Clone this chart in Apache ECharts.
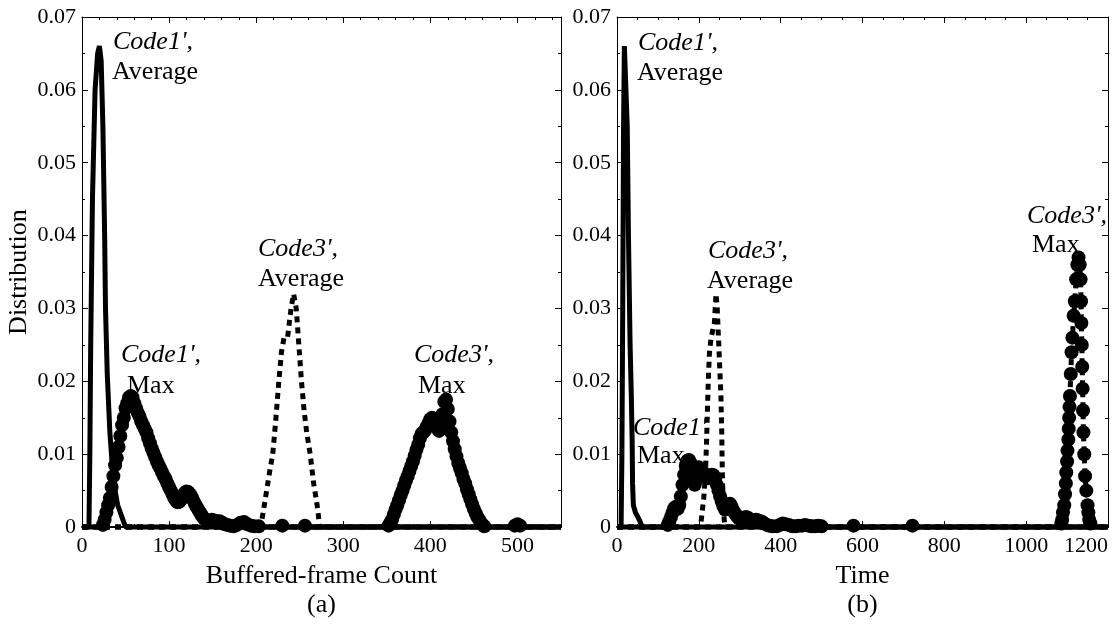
<!DOCTYPE html>
<html>
<head>
<meta charset="utf-8">
<title>Distribution</title>
<style>
html, body {margin: 0; padding: 0; background: #fff;}
#chart {width: 1120px; height: 625px;}
</style>
</head>
<body>
<div id="chart"></div>
<script src="https://cdn.jsdelivr.net/npm/echarts@6/dist/echarts.min.js"></script>
<script>
// (a) Buffered-frame Count, [x, distribution]
var aCode1Avg = [[0,0],[8,0],[9,0.01],[10,0.025],[12,0.045],[15,0.06],[18,0.065],[20,0.066],[22,0.064],[24,0.055],[26,0.04],[27,0.03],[29,0.021],[32,0.013],[35,0.008],[38,0.005],[41,0.003],[44,0.002],[47,0.001],[50,0],[550,0]];
var aCode1Max = [[0,0],[22,0],[24,0.0003],[26,0.001],[28,0.002],[30,0.003],[32,0.004],[34,0.0055],[36,0.007],[38,0.0085],[40,0.0095],[42,0.011],[44,0.0125],[46,0.014],[48,0.015],[50,0.0163],[52,0.017],[54,0.0178],[56,0.018],[58,0.0178],[60,0.017],[62,0.0163],[64,0.0157],[66,0.0152],[68,0.0145],[70,0.014],[72,0.0135],[74,0.013],[76,0.0122],[78,0.0115],[80,0.0108],[82,0.0102],[84,0.0096],[86,0.009],[88,0.0085],[90,0.008],[92,0.0075],[94,0.007],[96,0.0066],[98,0.006],[100,0.0055],[102,0.005],[104,0.0045],[106,0.004],[108,0.0036],[110,0.0034],[112,0.0035],[114,0.0038],[116,0.0043],[118,0.0047],[120,0.0049],[122,0.0048],[124,0.0045],[126,0.0041],[128,0.0036],[130,0.0031],[132,0.0027],[134,0.0023],[136,0.0019],[138,0.0015],[140,0.0012],[143,0.0009],[146,0.0008],[149,0.001],[152,0.0009],[155,0.0008],[158,0.0008],[161,0.0006],[164,0.0004],[167,0.0003],[170,0.0002],[174,0.0001],[178,0.0003],[182,0.0006],[186,0.0007],[190,0.0004],[194,0.0002],[198,0.0001],[203,0.0001],[210,0],[226,0],[230,0.0002],[234,0],[252,0],[256,0.0002],[260,0],[550,0]];
var aCode3Avg = [[0,0],[205,0],[208,0.002],[212,0.005],[216,0.008],[219,0.01],[222,0.014],[226,0.02],[229,0.024],[232,0.026],[236,0.026],[240,0.03],[243,0.032],[246,0.03],[249,0.025],[252,0.02],[255,0.016],[258,0.013],[262,0.01],[266,0.006],[270,0.003],[273,0],[550,0]];
var aCode3Max = [[0,0],[350,0],[352,0.0002],[354,0.0006],[356,0.001],[358,0.0017],[360,0.0024],[362,0.003],[364,0.0037],[366,0.0044],[368,0.005],[370,0.0057],[372,0.0064],[374,0.007],[376,0.0077],[378,0.0084],[380,0.009],[382,0.0098],[384,0.0106],[386,0.0113],[388,0.0122],[390,0.0128],[392,0.013],[394,0.0133],[396,0.0138],[398,0.0143],[400,0.0148],[402,0.015],[404,0.0147],[406,0.0142],[408,0.0136],[410,0.0132],[412,0.014],[414,0.0155],[416,0.0172],[418,0.0175],[420,0.0162],[422,0.0145],[424,0.013],[426,0.0118],[428,0.0107],[430,0.0097],[432,0.0088],[434,0.0081],[436,0.0074],[438,0.0066],[440,0.006],[442,0.0052],[444,0.0045],[446,0.0038],[448,0.0031],[450,0.0025],[452,0.0019],[454,0.0014],[456,0.001],[458,0.0006],[460,0.0003],[462,0.0001],[465,0],[494,0],[497,0.0002],[500,0.0004],[503,0.0002],[506,0],[550,0]];

// (b) Time, [x, distribution]
var bCode1Avg = [[0,0],[10,0],[12,0.01],[14,0.03],[16,0.055],[18,0.066],[22,0.066],[25,0.055],[28,0.04],[32,0.025],[35,0.018],[37,0.012],[38,0.006],[40,0.003],[45,0.002],[50,0.0015],[56,0.0008],[62,0],[1200,0]];
var bCode1Max = [[0,0],[120,0],[124,0.0003],[128,0.0008],[132,0.0014],[136,0.002],[140,0.0026],[144,0.0028],[148,0.0025],[152,0.003],[156,0.0042],[160,0.0058],[164,0.0072],[168,0.0084],[172,0.0091],[176,0.0092],[180,0.0088],[184,0.0078],[187,0.0065],[190,0.0058],[193,0.0064],[196,0.0074],[200,0.0082],[204,0.008],[208,0.0077],[212,0.0074],[216,0.007],[220,0.0068],[224,0.0067],[228,0.007],[232,0.0072],[236,0.0071],[240,0.0066],[244,0.0058],[248,0.005],[252,0.0042],[256,0.0035],[260,0.0029],[264,0.0024],[268,0.0027],[272,0.0031],[276,0.0032],[280,0.0028],[284,0.0023],[288,0.0019],[292,0.0016],[296,0.0013],[300,0.0011],[305,0.001],[310,0.0012],[315,0.0014],[320,0.0013],[325,0.001],[330,0.0008],[335,0.0008],[340,0.001],[345,0.0009],[350,0.0008],[355,0.0007],[360,0.0005],[366,0.0003],[372,0.0002],[380,0.0001],[390,0.0001],[398,0.0003],[405,0.0005],[412,0.0004],[420,0.0003],[428,0.0001],[436,0.0001],[444,0.0002],[452,0.0002],[460,0.0003],[468,0.0002],[476,0.0001],[484,0.0001],[492,0.0002],[500,0.0001],[508,0],[572,0],[578,0.0002],[584,0],[716,0],[722,0.0002],[728,0],[1200,0]];
var bCode3Avg = [[0,0],[200,0],[205,0.0005],[208,0.002],[212,0.004],[216,0.007],[219,0.012],[221,0.016],[223,0.02],[226,0.024],[230,0.026],[234,0.026],[238,0.028],[242,0.032],[245,0.03],[248,0.026],[251,0.022],[254,0.018],[256,0.013],[257,0.009],[258,0.006],[260,0.003],[262,0.001],[265,0],[1200,0]];
var bCode3Max = [[0,0],[1080,0],[1086,0.0005],[1088,0.001],[1090,0.002],[1093,0.003],[1095,0.0045],[1097,0.006],[1098,0.0075],[1100,0.009],[1101,0.0105],[1103,0.012],[1104,0.0135],[1105,0.015],[1106,0.0165],[1107,0.018],[1109,0.021],[1111,0.024],[1113,0.026],[1116,0.029],[1119,0.031],[1122,0.034],[1125,0.036],[1128,0.037],[1131,0.036],[1133,0.034],[1134,0.031],[1135,0.028],[1136,0.025],[1137,0.022],[1138,0.019],[1139,0.016],[1140,0.013],[1142,0.01],[1144,0.007],[1147,0.005],[1150,0.003],[1152,0.002],[1154,0.001],[1157,0.0005],[1160,0],[1200,0]];

var FONT = 'Liberation Serif';
var chart = echarts.init(document.getElementById('chart'));

function xAx(grid, pos, max, interval, split, name, showMax) {
    return {
        type: 'value', gridIndex: grid, position: pos,
        min: 0, max: max, interval: interval,
        axisLine: {show: true, onZero: false, lineStyle: {color: '#000', width: pos === 'bottom' ? 2 : 1}},
        axisTick: {show: true, inside: true, length: 6, lineStyle: {color: '#000'}},
        minorTick: {show: true, splitNumber: split, length: 3, lineStyle: {color: '#000'}},
        splitLine: {show: false},
        axisLabel: {show: pos === 'bottom', color: '#000', fontFamily: FONT, fontSize: 22, margin: 8,
            showMaxLabel: showMax, alignMaxLabel: 'right',
            formatter: function (v) { return String(v); }},
        name: pos === 'bottom' ? name : '',
        nameLocation: 'middle', nameGap: 27,
        nameTextStyle: {color: '#000', fontFamily: FONT, fontSize: 26, lineHeight: 29}
    };
}

function yAx(grid, pos, name) {
    return {
        type: 'value', gridIndex: grid, position: pos,
        min: 0, max: 0.07, interval: 0.01,
        axisLine: {show: true, onZero: false, lineStyle: {color: '#000', width: 1}},
        axisTick: {show: true, inside: true, length: 6, lineStyle: {color: '#000'}},
        minorTick: {show: true, splitNumber: 2, length: 3, lineStyle: {color: '#000'}},
        splitLine: {show: false},
        axisLabel: {show: pos === 'left', color: '#000', fontFamily: FONT, fontSize: 22, margin: 6},
        name: name, nameLocation: 'middle', nameGap: 50,
        nameTextStyle: {color: '#000', fontFamily: FONT, fontSize: 26}
    };
}

function ser(data, xi, yi, dotted, marker) {
    return {
        type: 'line', data: data, xAxisIndex: xi, yAxisIndex: yi,
        silent: true, clip: false,
        symbol: marker ? 'circle' : 'none', showSymbol: marker,
        symbolSize: function (v) { return v[1] > 0 ? 14 : 0; },
        itemStyle: {color: '#000'},
        lineStyle: {color: '#000', width: 5, type: dotted ? [6, 5] : 'solid', cap: 'butt'}
    };
}

function note(x, y, code, x2, gap, label) {
    return [
        {type: 'text', x: x, y: y, style: {text: code, font: 'italic 26px "Liberation Serif"', fill: '#000', verticalAlign: 'middle'}},
        {type: 'text', x: x2, y: y + gap, style: {text: label, font: '26px "Liberation Serif"', fill: '#000', verticalAlign: 'middle'}}
    ];
}

chart.setOption({
    animation: false,
    grid: [
        {left: 82, top: 17, width: 479, height: 523},
        {left: 617, top: 17, width: 491, height: 523}
    ],
    xAxis: [
        xAx(0, 'bottom', 550, 100, 5, 'Buffered-frame Count\n(a)', false),
        xAx(0, 'top', 550, 100, 5, '', false),
        xAx(1, 'bottom', 1200, 200, 4, 'Time\n(b)', true),
        xAx(1, 'top', 1200, 200, 4, '', true)
    ],
    yAxis: [
        yAx(0, 'left', 'Distribution'),
        yAx(0, 'right', ''),
        yAx(1, 'left', ''),
        yAx(1, 'right', '')
    ],
    series: [
        ser(aCode1Avg, 0, 0, false, false),
        ser(aCode1Max, 0, 0, false, true),
        ser(aCode3Avg, 0, 0, true, false),
        ser(aCode3Max, 0, 0, true, true),
        ser(bCode1Avg, 2, 2, false, false),
        ser(bCode1Max, 2, 2, false, true),
        ser(bCode3Avg, 2, 2, true, false),
        ser(bCode3Max, 2, 2, true, true)
    ],
    graphic: [].concat(
        note(113, 42, "Code1',", 112, 30, 'Average'),
        note(258, 249, "Code3',", 258, 30, 'Average'),
        note(121, 355, "Code1',", 127, 31, 'Max'),
        note(414, 355, "Code3',", 418, 31, 'Max'),
        note(638, 43, "Code1',", 637, 30, 'Average'),
        note(708, 251, "Code3',", 707, 30, 'Average'),
        note(633, 428, "Code1'", 637, 28, 'Max'),
        note(1027, 216, "Code3',", 1032, 29, 'Max')
    )
});
</script>
</body>
</html>
